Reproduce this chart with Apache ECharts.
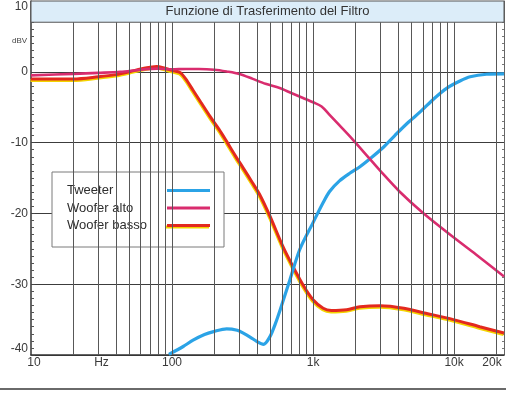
<!DOCTYPE html>
<html>
<head>
<meta charset="utf-8">
<script src="https://cdn.jsdelivr.net/npm/echarts@6/dist/echarts.min.js"></script>
<style>
  html, body { margin: 0; padding: 0; background: #fff; }
  #chart { width: 506px; height: 393px; }
</style>
</head>
<body>
<div id="chart"></div>
<script>
// Frequency axis (Hz, log) and level axis (dBV)
const xMin = 10, xMax = 22600;
const yMin = -40, yMax = 10;
const titleBandLow = 7;
const chartTitle = 'Funzione di Trasferimento del Filtro';
const xLabelValues = [10, 31.6, 100, 1000, 10000, 20000];
const xLabelTexts = ['10', 'Hz', '100', '1k', '10k', '20k'];
const gridFreqs = [20, 30, 40, 50, 60, 70, 80, 90, 100,
  200, 300, 400, 500, 600, 700, 800, 900, 1000,
  2000, 3000, 4000, 5000, 6000, 7000, 8000, 9000, 10000, 20000];

// Tweeter branch
const tweeterFreq = [95, 120, 141, 170, 197, 244, 290, 320, 360, 400, 445, 495, 540, 585, 685, 805,
  1000, 1170, 1310, 1540, 1830, 2150, 2600, 3100, 3800, 4700, 5800, 7200, 8900, 11000, 13000, 17000, 22600];
const tweeterDb = [-39.9, -38.8, -37.9, -37.1, -36.7, -36.3, -36.5, -36.9, -37.5, -38.1, -38.5, -37.4, -35.6, -33.6, -29.4, -25.1,
  -21.3, -18.6, -16.9, -15.4, -14.3, -13.4, -12.1, -10.8, -9.0, -7.2, -5.6, -3.8, -2.3, -1.3, -0.7, -0.35, -0.3];

// Upper woofer branch
const wooferAltoFreq = [10, 20, 30, 43, 60, 80, 100, 125, 155, 200, 244, 300, 374, 460, 580, 700, 850,
  1000, 1150, 1300, 1530, 1900, 2500, 3000, 4100, 6000, 9800, 14300, 22600];
const wooferAltoDb = [-0.5, -0.3, -0.15, 0.0, 0.3, 0.45, 0.35, 0.4, 0.4, 0.3, 0.05, -0.3, -1.0, -1.7, -2.3, -3.0, -3.7,
  -4.3, -4.9, -6.0, -7.5, -9.5, -12.2, -14.0, -16.9, -19.9, -23.3, -25.8, -28.9];

// Lower woofer branch
const wooferBassoFreq = [10, 15, 20, 30, 40, 50, 60, 70, 78, 89, 100, 114, 125, 141, 160, 186, 215, 245, 280, 320, 370, 420,
  495, 612, 720, 860, 1000, 1180, 1350, 1730, 2150, 3000, 4400, 6300, 9900, 15200, 22600];
const wooferBassoDb = [-1.0, -1.0, -1.0, -0.7, -0.4, 0.0, 0.4, 0.65, 0.75, 0.5, 0.2, -0.1, -1.0, -2.6, -4.3, -6.3, -8.1, -9.9, -11.8, -13.6, -15.6, -17.4,
  -20.4, -24.7, -27.5, -30.3, -32.2, -33.4, -33.7, -33.6, -33.2, -33.05, -33.4, -34.1, -35.0, -36.0, -36.9];

const pairs = (fs, ds) => fs.map((f, i) => [f, ds[i]]);

const colTweeter = '#2ba3e6';
const colAlto = '#d92c6e';
const colBasso = '#e3291f';
const colBassoEdge = '#f3d400';
const gridColor = '#585858';
const font = '"Liberation Sans", Arial, sans-serif';

// Picks the caption for a label value; the end labels get a small nudge inward
function xLabel(v) {
  let best = 0, bestD = Infinity;
  xLabelValues.forEach((lv, i) => {
    const d = Math.abs(Math.log10(lv) - Math.log10(v));
    if (d < bestD) { bestD = d; best = i; }
  });
  const t = xLabelTexts[best];
  if (best === xLabelTexts.length - 1) return '{r|' + t + '}';
  if (best === 0) return '{l|' + t + '}';
  return t;
}

const chart = echarts.init(document.getElementById('chart'), null, { renderer: 'canvas' });

chart.setOption({
  animation: false,
  backgroundColor: '#ffffff',
  textStyle: { fontFamily: font },
  grid: { left: 31, right: 2, top: 1, bottom: 38, containLabel: false },
  graphic: [
    { type: 'text', left: 12, top: 37,
      style: { text: 'dBV', fontSize: 8, fill: '#444', fontFamily: font } },
    { type: 'line', shape: { x1: 0, y1: 389, x2: 506, y2: 389 },
      style: { stroke: '#6a6a6a', lineWidth: 2 } }
  ],
  legend: {
    data: [
      { name: 'Tweeter' },
      { name: 'Woofer alto' },
      { name: 'Woofer basso', itemStyle: { color: colBasso, shadowColor: colBassoEdge, shadowOffsetY: 1.5, shadowOffsetX: -1, shadowBlur: 0 } }
    ],
    orient: 'vertical',
    align: 'right',
    left: 52, top: 172,
    padding: [12, 14, 15, 15],
    itemGap: 4.5,
    itemWidth: 43, itemHeight: 3,
    icon: 'rect',
    backgroundColor: '#ffffff',
    borderColor: '#7a7a7a', borderWidth: 1, borderRadius: 0,
    selectedMode: false,
    formatter: '{t|{name}}',
    textStyle: {
      color: '#2e2e2e', fontSize: 13, fontFamily: font,
      rich: { t: { width: 95, align: 'left', fontSize: 13, lineHeight: 14, color: '#2e2e2e', fontFamily: font } }
    }
  },
  xAxis: {
    type: 'log', logBase: 10, min: xMin, max: xMax,
    axisLine: { show: true, onZero: false, lineStyle: { color: '#333', width: 1.5 } },
    axisTick: { show: false },
    splitLine: { show: false },
    axisLabel: {
      show: true, customValues: xLabelValues, formatter: xLabel,
      color: '#3a3a3a', fontSize: 12, margin: 2, fontFamily: font,
      rich: {
        r: { padding: [0, 9, 0, 0], fontSize: 12, color: '#3a3a3a', fontFamily: font },
        l: { padding: [0, 0, 0, 6], fontSize: 12, color: '#3a3a3a', fontFamily: font }
      }
    }
  },
  yAxis: [
    {
      type: 'value', min: yMin, max: yMax, interval: 10,
      axisLine: { show: true, onZero: false, lineStyle: { color: '#333', width: 1.5 } },
      axisTick: { show: true, inside: true, length: 4, lineStyle: { color: '#444' } },
      minorTick: { show: true, splitNumber: 10, length: 3, lineStyle: { color: '#555' } },
      splitLine: { show: true, lineStyle: { color: '#3c3c3c', width: 1 } },
      axisLabel: {
        color: '#3a3a3a', fontSize: 12, margin: 3, fontFamily: font,
        verticalAlignMaxLabel: 'top', verticalAlignMinLabel: 'bottom'
      }
    },
    {
      type: 'value', min: yMin, max: yMax, interval: 10, position: 'right',
      axisLine: { show: true, onZero: false, lineStyle: { color: '#666', width: 1 } },
      axisTick: { show: false, inside: true },
      minorTick: { show: true, splitNumber: 10, length: 2, lineStyle: { color: '#777' } },
      splitLine: { show: false },
      axisLabel: { show: false }
    }
  ],
  series: [
    {
      name: 'griglia', type: 'line', data: [], silent: true, z: 1,
      markLine: {
        silent: true, symbol: ['none', 'none'], animation: false,
        label: { show: false },
        lineStyle: { color: gridColor, width: 1, type: 'solid' },
        emphasis: { disabled: true },
        data: gridFreqs.map(f => [{ coord: [f, titleBandLow] }, { coord: [f, yMin] }])
      },
      markArea: {
        silent: true,
        itemStyle: { color: '#dcedf9', borderColor: '#555', borderWidth: 1 },
        label: { show: true, position: 'inside', color: '#333', fontSize: 13, fontFamily: font },
        emphasis: { disabled: true },
        data: [[{ name: chartTitle, xAxis: xMin, yAxis: titleBandLow }, { xAxis: xMax, yAxis: yMax }]]
      }
    },
    {
      name: 'Woofer basso', type: 'line', smooth: 0.3, showSymbol: false, z: 2,
      data: pairs(wooferBassoFreq, wooferBassoDb),
      itemStyle: { color: colBasso },
      lineStyle: { color: colBasso, width: 3, shadowColor: colBassoEdge, shadowOffsetY: 1.5, shadowOffsetX: -0.5, shadowBlur: 0 }
    },
    {
      name: 'Tweeter', type: 'line', smooth: 0.3, showSymbol: false, z: 3,
      data: pairs(tweeterFreq, tweeterDb),
      itemStyle: { color: colTweeter },
      lineStyle: { color: colTweeter, width: 3.2 }
    },
    {
      name: 'Woofer alto', type: 'line', smooth: 0.3, showSymbol: false, z: 4,
      data: pairs(wooferAltoFreq, wooferAltoDb),
      itemStyle: { color: colAlto },
      lineStyle: { color: colAlto, width: 2.6 }
    }
  ]
});
</script>
</body>
</html>
